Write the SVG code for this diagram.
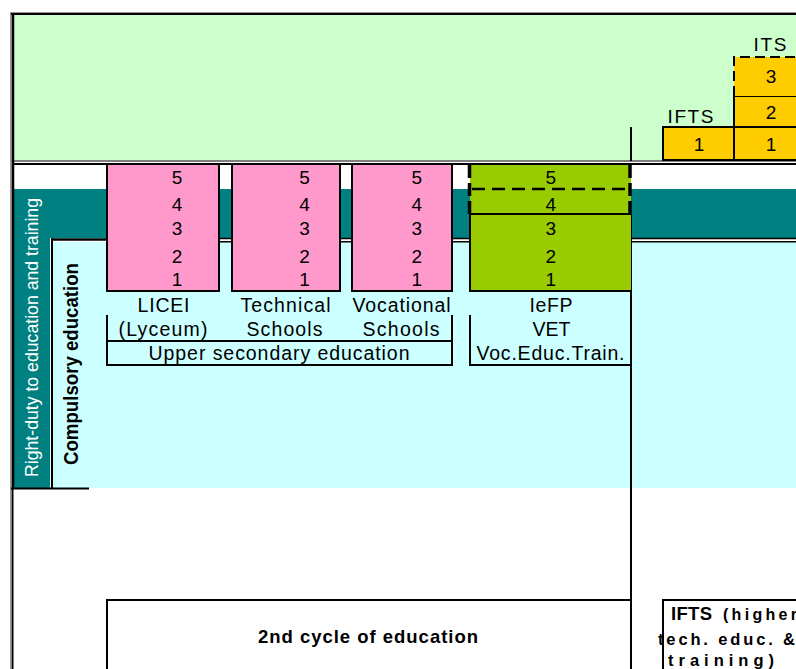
<svg xmlns="http://www.w3.org/2000/svg" width="796" height="669" viewBox="0 0 796 669">
<style>
text{font-family:"Liberation Sans",Arial,sans-serif;fill:#000}
.n{font-size:19px;text-anchor:middle}
.l{font-size:19.5px;text-anchor:middle}
.b{font-weight:bold}
.k{stroke:#000;fill:none}
.pink{fill:#FF99CC;stroke:#000;stroke-width:2}
.org{fill:#FFCC00;stroke:#000;stroke-width:2}
</style>
<rect width="796" height="669" fill="#fff"/>
<g id="bands">
<rect x="14" y="15" width="782" height="145" fill="#CCFFCC"/>
<rect x="14" y="189" width="782" height="49" fill="#008080"/>
<rect x="14" y="189" width="36" height="299" fill="#008080"/>
<rect x="53" y="242" width="743" height="246" fill="#CCFFFF"/>
<text transform="translate(38,337.5) rotate(-90)" font-size="19" text-anchor="middle" textLength="279" lengthAdjust="spacingAndGlyphs" style="fill:#fff">Right-duty to education and training</text>
<text class="b" transform="translate(78,364) rotate(-90)" font-size="20" text-anchor="middle" textLength="202" lengthAdjust="spacingAndGlyphs">Compulsory education</text>
</g>
<g id="connectors">
<line x1="10.5" y1="12" x2="10.5" y2="669" stroke="#999" stroke-width="1"/>
<line x1="10" y1="12.5" x2="796" y2="12.5" stroke="#999" stroke-width="1"/>
<line x1="12.5" y1="13" x2="12.5" y2="669" class="k" stroke-width="2"/>
<line x1="13.5" y1="13" x2="13.5" y2="488" class="k" stroke-width="1.5"/>
<line x1="11" y1="14" x2="796" y2="14" class="k" stroke-width="2"/>
<line x1="12" y1="161" x2="796" y2="161" class="k" stroke-width="1.2"/>
<line x1="12" y1="164" x2="796" y2="164" class="k" stroke-width="2"/>
<line x1="107" y1="238.5" x2="796" y2="238.5" class="k" stroke-width="1.5"/>
<line x1="107" y1="241.7" x2="796" y2="241.7" class="k" stroke-width="1.5"/>
<line x1="51" y1="239.5" x2="108" y2="239.5" class="k" stroke-width="2.5"/>
<line x1="52" y1="238.5" x2="52" y2="488" class="k" stroke-width="2"/>
<line x1="11" y1="488.5" x2="89" y2="488.5" class="k" stroke-width="2"/>
<line x1="631" y1="127" x2="631" y2="161" class="k" stroke-width="2"/>
<line x1="631" y1="214" x2="631" y2="669" class="k" stroke-width="2"/>
<line x1="107" y1="315" x2="107" y2="366" class="k" stroke-width="2"/>
<line x1="106" y1="341" x2="453" y2="341" class="k" stroke-width="2"/>
<line x1="452" y1="315" x2="452" y2="366" class="k" stroke-width="2"/>
<line x1="106" y1="365" x2="453" y2="365" class="k" stroke-width="2"/>
<line x1="470" y1="315" x2="470" y2="366" class="k" stroke-width="2"/>
<line x1="469" y1="365" x2="631" y2="365" class="k" stroke-width="2"/>
</g>
<g id="licei">
<rect x="107" y="164" width="112" height="127" class="pink"/>
<text class="n" x="177" y="184">5</text><text class="n" x="177" y="210.5">4</text><text class="n" x="177" y="235">3</text><text class="n" x="177" y="262.5">2</text><text class="n" x="177" y="286">1</text>
<text class="l" x="163.5" y="311.5" textLength="52" lengthAdjust="spacing">LICEI</text>
<text class="l" x="163" y="336" textLength="89" lengthAdjust="spacing">(Lyceum)</text>
</g>
<g id="technical">
<rect x="232" y="164" width="108" height="127" class="pink"/>
<text class="n" x="304.5" y="184">5</text><text class="n" x="304.5" y="210.5">4</text><text class="n" x="304.5" y="235">3</text><text class="n" x="304.5" y="262.5">2</text><text class="n" x="304.5" y="286">1</text>
<text class="l" x="285.5" y="311.5" textLength="90" lengthAdjust="spacing">Technical</text>
<text class="l" x="284.5" y="336" textLength="76" lengthAdjust="spacing">Schools</text>
</g>
<g id="vocational">
<rect x="352" y="164" width="100" height="127" class="pink"/>
<text class="n" x="416.7" y="184">5</text><text class="n" x="416.7" y="210.5">4</text><text class="n" x="416.7" y="235">3</text><text class="n" x="416.7" y="262.5">2</text><text class="n" x="416.7" y="286">1</text>
<text class="l" x="401.5" y="311.5" textLength="98" lengthAdjust="spacing">Vocational</text>
<text class="l" x="401" y="336" textLength="77" lengthAdjust="spacing">Schools</text>
</g>
<g id="upper-secondary">
<text class="l" x="279" y="360" textLength="261" lengthAdjust="spacing">Upper secondary education</text>
</g>
<g id="iefp">
<rect x="470" y="165" width="161" height="126" fill="#99CC00"/>
<line x1="470" y1="214" x2="631" y2="214" class="k" stroke-width="2"/>
<line x1="470" y1="214" x2="470" y2="292" class="k" stroke-width="2"/>
<line x1="469" y1="291" x2="632" y2="291" class="k" stroke-width="2"/>
<line x1="469.5" y1="165" x2="469.5" y2="214" class="k" stroke-width="3.5" stroke-dasharray="13 5"/>
<line x1="630" y1="165" x2="630" y2="214" class="k" stroke-width="3.5" stroke-dasharray="13 5"/>
<line x1="472" y1="189" x2="630" y2="189" class="k" stroke-width="2.5" stroke-dasharray="13 7"/>
<text class="n" x="550.8" y="184">5</text><text class="n" x="550.8" y="210.5">4</text><text class="n" x="550.8" y="235">3</text><text class="n" x="550.8" y="262.5">2</text><text class="n" x="550.8" y="286">1</text>
<text class="l" x="551" y="311.5" textLength="43" lengthAdjust="spacing">IeFP</text>
<text class="l" x="551.5" y="336" textLength="38" lengthAdjust="spacing">VET</text>
<text class="l" x="550.5" y="360" textLength="148" lengthAdjust="spacing">Voc.Educ.Train.</text>
</g>
<g id="ifts-top">
<rect x="663" y="127" width="71" height="33" class="org"/>
<text class="n" x="699" y="150.5">1</text>
<text class="n" x="690.5" y="122.5" textLength="46" lengthAdjust="spacing">IFTS</text>
</g>
<g id="its-top">
<rect x="734" y="127" width="80" height="33" class="org"/>
<rect x="734" y="96" width="80" height="31" class="org"/>
<rect x="734" y="57" width="80" height="39" fill="#FFCC00"/>
<path d="M734,96 V57 H814" class="k" stroke-width="2" stroke-dasharray="10 5"/>
<text class="n" x="771" y="150.5">1</text>
<text class="n" x="771" y="118.5">2</text>
<text class="n" x="771" y="83.3">3</text>
<text class="n" x="770" y="51" textLength="33" lengthAdjust="spacing">ITS</text>
</g>
<g id="second-cycle">
<path d="M107,669 V600 H631" class="k" stroke-width="2"/>
<text class="b" x="368" y="643" font-size="18.5" text-anchor="middle" textLength="220" lengthAdjust="spacing">2nd cycle of education</text>
</g>
<g id="ifts-bottom">
<path d="M663,669 V600 H800" class="k" stroke-width="2"/>
<text class="b"><tspan x="671" y="620" font-size="18.5" textLength="41" lengthAdjust="spacing">IFTS</tspan><tspan x="723" y="620" font-size="16" textLength="74" lengthAdjust="spacing">(higher</tspan></text>
<text class="b" x="658" y="645" font-size="16.5" textLength="137" lengthAdjust="spacing">tech. educ. &amp;</text>
<text class="b" x="668" y="666" font-size="16.5" textLength="106" lengthAdjust="spacing">training)</text>
</g>
</svg>
